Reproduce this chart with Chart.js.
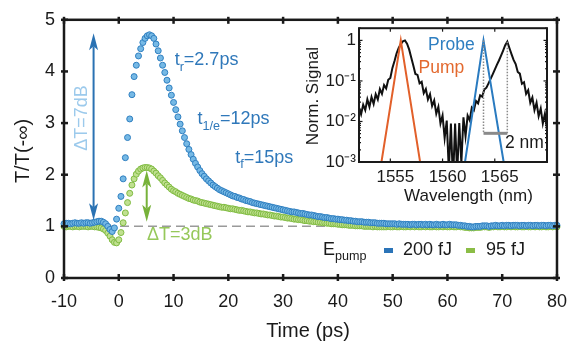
<!DOCTYPE html>
<html>
<head>
<meta charset="utf-8">
<script src="https://cdn.jsdelivr.net/npm/chart.js@4.4.1/dist/chart.umd.min.js"></script>
<style>
  html, body { margin: 0; padding: 0; background: #fff; }
  #wrap { position: relative; width: 580px; height: 345px; }
  #main { position: absolute; left: 0; top: 0; }
  #inset { position: absolute; left: 295px; top: 15px; }
</style>
</head>
<body>
<div id="wrap">
  <canvas id="main" width="580" height="345"></canvas>
  <canvas id="inset" width="262" height="195"></canvas>
</div>
<script>
// pump-probe delay (ps)
const timePs = [
  -10, -9.6, -9.2, -8.8, -8.4, -8, -7.6, -7.2, -6.8, -6.4,
  -6, -5.6, -5.2, -4.8, -4.4, -4, -3.6, -3.2, -2.8, -2.4,
  -2, -1.6, -1.2, -0.8, -0.4, 0, 0.4, 0.8, 1.2, 1.6,
  2, 2.4, 2.8, 3.2, 3.6, 4, 4.4, 4.8, 5.2, 5.6,
  6, 6.4, 6.8, 7.2, 7.6, 8, 8.4, 8.8, 9.2, 9.6,
  10, 10.4, 10.8, 11.2, 11.6, 12, 12.4, 12.8, 13.2, 13.6,
  14, 14.4, 14.8, 15.2, 15.6, 16, 16.4, 16.8, 17.2, 17.6,
  18, 18.4, 18.8, 19.2, 19.6, 20, 20.4, 20.8, 21.2, 21.6,
  22, 22.4, 22.8, 23.2, 23.6, 24, 24.4, 24.8, 25.2, 25.6,
  26, 26.4, 26.8, 27.2, 27.6, 28, 28.4, 28.8, 29.2, 29.6,
  30, 30.4, 30.8, 31.2, 31.6, 32, 32.4, 32.8, 33.2, 33.6,
  34, 34.4, 34.8, 35.2, 35.6, 36, 36.4, 36.8, 37.2, 37.6,
  38, 38.4, 38.8, 39.2, 39.6, 40, 40.4, 40.8, 41.2, 41.6,
  42, 42.4, 42.8, 43.2, 43.6, 44, 44.4, 44.8, 45.2, 45.6,
  46, 46.4, 46.8, 47.2, 47.6, 48, 48.4, 48.8, 49.2, 49.6,
  50, 50.4, 50.8, 51.2, 51.6, 52, 52.4, 52.8, 53.2, 53.6,
  54, 54.4, 54.8, 55.2, 55.6, 56, 56.4, 56.8, 57.2, 57.6,
  58, 58.4, 58.8, 59.2, 59.6, 60, 60.4, 60.8, 61.2, 61.6,
  62, 62.4, 62.8, 63.2, 63.6, 64, 64.4, 64.8, 65.2, 65.6,
  66, 66.4, 66.8, 67.2, 67.6, 68, 68.4, 68.8, 69.2, 69.6,
  70, 70.4, 70.8, 71.2, 71.6, 72, 72.4, 72.8, 73.2, 73.6,
  74, 74.4, 74.8, 75.2, 75.6, 76, 76.4, 76.8, 77.2, 77.6,
  78, 78.4, 78.8, 79.2, 79.6, 80
];

// T/T(-inf), 200 fJ pump
const trans200fJ = [
  1.05, 1.06, 1.06, 1.05, 1.06, 1.07, 1.06, 1.06, 1.07, 1.06,
  1.07, 1.07, 1.06, 1.07, 1.08, 1.09, 1.10, 1.10, 1.08, 1.05,
  1.00, 0.94, 0.90, 0.97, 1.14, 1.35, 1.58, 1.92, 2.33, 2.72,
  3.08, 3.55, 3.90, 4.12, 4.30, 4.44, 4.56, 4.64, 4.69, 4.71,
  4.69, 4.64, 4.53, 4.40, 4.26, 4.12, 3.98, 3.83, 3.68, 3.54,
  3.40, 3.26, 3.12, 2.98, 2.85, 2.72, 2.60, 2.49, 2.39, 2.30,
  2.22, 2.15, 2.08, 2.02, 1.97, 1.92, 1.88, 1.84, 1.80, 1.77,
  1.74, 1.71, 1.69, 1.67, 1.65, 1.63, 1.61, 1.59, 1.58, 1.56,
  1.55, 1.53, 1.52, 1.50, 1.49, 1.48, 1.46, 1.45, 1.44, 1.43,
  1.42, 1.41, 1.40, 1.39, 1.38, 1.37, 1.36, 1.35, 1.34, 1.33,
  1.32, 1.31, 1.30, 1.29, 1.28, 1.28, 1.27, 1.26, 1.25, 1.25,
  1.24, 1.23, 1.22, 1.22, 1.21, 1.20, 1.19, 1.19, 1.18, 1.17,
  1.17, 1.16, 1.15, 1.15, 1.14, 1.14, 1.13, 1.13, 1.12, 1.12,
  1.11, 1.11, 1.10, 1.10, 1.09, 1.09, 1.09, 1.08, 1.08, 1.08,
  1.07, 1.07, 1.07, 1.06, 1.06, 1.06, 1.06, 1.05, 1.05, 1.05,
  1.05, 1.05, 1.04, 1.05, 1.04, 1.04, 1.04, 1.04, 1.03, 1.04,
  1.04, 1.03, 1.04, 1.04, 1.03, 1.04, 1.03, 1.04, 1.03, 1.03,
  1.04, 1.03, 1.03, 1.04, 1.03, 1.03, 1.04, 1.03, 1.03, 1.03,
  1.02, 1.02, 1.01, 1.01, 1.00, 1.00, 0.99, 0.99, 1.00, 1.00,
  1.00, 1.01, 1.01, 1.01, 1.00, 1.01, 1.01, 1.02, 1.01, 1.01,
  1.02, 1.01, 1.02, 1.02, 1.01, 1.02, 1.02, 1.02, 1.01, 1.02,
  1.02, 1.01, 1.02, 1.02, 1.01, 1.02, 1.02, 1.01, 1.02, 1.02,
  1.01, 1.02, 1.02, 1.01, 1.02, 1.02
];

// T/T(-inf), 95 fJ pump
const trans95fJ = [
  1.00, 0.99, 1.00, 1.00, 0.99, 1.00, 1.00, 0.99, 1.00, 1.00,
  1.00, 0.99, 1.00, 1.00, 0.99, 0.99, 0.98, 0.97, 0.95, 0.92,
  0.87, 0.81, 0.74, 0.69, 0.68, 0.74, 0.88, 1.07, 1.26, 1.46,
  1.64, 1.80, 1.92, 2.01, 2.07, 2.11, 2.13, 2.14, 2.14, 2.13,
  2.11, 2.07, 2.03, 1.98, 1.94, 1.89, 1.84, 1.80, 1.76, 1.72,
  1.69, 1.67, 1.64, 1.62, 1.60, 1.58, 1.56, 1.54, 1.53, 1.51,
  1.50, 1.49, 1.47, 1.46, 1.45, 1.44, 1.43, 1.42, 1.41, 1.40,
  1.39, 1.38, 1.37, 1.37, 1.36, 1.35, 1.34, 1.34, 1.33, 1.32,
  1.31, 1.31, 1.30, 1.29, 1.28, 1.28, 1.27, 1.26, 1.26, 1.25,
  1.24, 1.24, 1.23, 1.22, 1.22, 1.21, 1.20, 1.20, 1.19, 1.18,
  1.18, 1.17, 1.16, 1.16, 1.15, 1.14, 1.14, 1.13, 1.13, 1.12,
  1.11, 1.11, 1.10, 1.10, 1.09, 1.09, 1.08, 1.08, 1.07, 1.07,
  1.06, 1.06, 1.05, 1.05, 1.05, 1.04, 1.04, 1.03, 1.03, 1.03,
  1.02, 1.02, 1.02, 1.01, 1.01, 1.01, 1.01, 1.00, 1.00, 1.00,
  1.00, 0.99, 1.00, 0.99, 0.99, 0.99, 0.99, 0.99, 1.00, 0.99,
  0.99, 1.00, 0.99, 0.99, 1.00, 0.99, 0.99, 1.00, 0.99, 1.00,
  0.99, 1.00, 0.99, 0.99, 1.00, 0.99, 1.00, 0.99, 0.99, 1.00,
  0.99, 0.99, 1.00, 0.99, 1.00, 0.99, 0.99, 1.00, 0.99, 0.99,
  1.00, 0.99, 0.99, 0.98, 0.98, 0.97, 0.97, 0.97, 0.98, 0.98,
  0.98, 0.99, 0.99, 0.99, 0.98, 0.99, 0.99, 1.00, 0.99, 0.99,
  1.00, 0.99, 0.99, 1.00, 0.99, 1.00, 0.99, 0.99, 1.00, 0.99,
  0.99, 1.00, 0.99, 0.99, 1.00, 0.99, 1.00, 0.99, 0.99, 1.00,
  0.99, 0.99, 1.00, 0.99, 1.00, 0.99
];

const baselineTime = [-10, 80];
const baselineLevel = [1, 1];

// inset: measured spectrum after the device (nm, normalised)
const spectrumNm = [
  1552, 1552.2, 1552.4, 1552.6, 1552.8, 1553, 1553.2, 1553.4, 1553.6, 1553.8,
  1554, 1554.2, 1554.4, 1554.6, 1554.8, 1555, 1555.2, 1555.4, 1555.6, 1555.8,
  1556, 1556.2, 1556.4, 1556.6, 1556.8, 1557, 1557.2, 1557.4, 1557.6, 1557.8,
  1558, 1558.2, 1558.4, 1558.6, 1558.8, 1559, 1559.2, 1559.4, 1559.6, 1559.8,
  1560, 1560.2, 1560.4, 1560.6, 1560.8, 1561, 1561.2, 1561.4, 1561.6, 1561.8,
  1562, 1562.2, 1562.4, 1562.6, 1562.8, 1563, 1563.2, 1563.4, 1563.6, 1563.8,
  1564, 1564.2, 1564.4, 1564.6, 1564.8, 1565, 1565.2, 1565.4, 1565.6, 1565.8,
  1566, 1566.2, 1566.4, 1566.6, 1566.8, 1567, 1567.2, 1567.4, 1567.6, 1567.8,
  1568, 1568.2, 1568.4, 1568.6, 1568.8, 1569, 1569.2, 1569.4, 1569.6, 1569.8,
  1570
];
const spectrumSignal = [
  0.022, 0.015, 0.026, 0.019, 0.035, 0.023, 0.040, 0.027, 0.047, 0.035,
  0.063, 0.048, 0.079, 0.065, 0.107, 0.118, 0.21, 0.31, 0.48, 0.65,
  0.81, 0.95, 1.0, 0.83, 0.60, 0.38, 0.24, 0.148, 0.141, 0.087,
  0.095, 0.050, 0.063, 0.035, 0.047, 0.024, 0.033, 0.0155, 0.023, 0.0089,
  0.014, 0.0039, 0.0105, 0.00063, 0.0089, 0.00032, 0.0089, 0.0005, 0.0091, 0.00095,
  0.0126, 0.0043, 0.014, 0.0107, 0.022, 0.019, 0.032, 0.028, 0.044, 0.041,
  0.062, 0.068, 0.087, 0.112, 0.145, 0.19, 0.25, 0.32, 0.42, 0.56,
  0.76, 0.93, 0.65, 0.46, 0.33, 0.26, 0.166, 0.151, 0.085, 0.093,
  0.048, 0.059, 0.029, 0.039, 0.019, 0.029, 0.0135, 0.021, 0.0089, 0.0155,
  0.0066
];
const pumpNm = [1554.15, 1556.0, 1557.85];
const pumpSignal = [0.001, 1, 0.001];
const probeNm = [1562.15, 1563.92, 1565.85];
const probeSignal = [0.001, 1, 0.001];
const shiftNm = [1563.92, 1566.2];
const shiftPeak = [1, 0.93];
const shiftBarLevel = 0.0051;

const insetXTicks = [1555, 1560, 1565];
const insetXLabels = ['1555', '1560', '1565'];
const insetYTicks = [0.001, 0.01, 0.1, 1];
const insetYLabels = ['10\u207B\u00B3', '10\u207B\u00B2', '10\u207B\u00B9', '1'];

const FONT = '"Liberation Sans", Arial, Helvetica, sans-serif';
const INK = '#1a1a1a';

const toPoints = (xs, ys) => xs.map((v, i) => ({ x: v, y: ys[i] }));

function richText(ctx, parts, x, y, size, color) {
  ctx.fillStyle = color;
  ctx.textAlign = 'left';
  ctx.textBaseline = 'alphabetic';
  parts.forEach((p) => {
    const s = p.sub ? size * 0.7 : size;
    ctx.font = `${s}px ${FONT}`;
    ctx.fillText(p.text, x, y + (p.sub ? size * 0.3 : 0));
    x += ctx.measureText(p.text).width;
  });
}

function doubleArrow(ctx, x, yTop, yBot, color) {
  const head = 17;
  const half = 4.5;
  ctx.save();
  ctx.strokeStyle = color;
  ctx.fillStyle = color;
  ctx.lineWidth = 2;
  ctx.beginPath();
  ctx.moveTo(x, yTop + head - 4);
  ctx.lineTo(x, yBot - head + 4);
  ctx.stroke();
  ctx.beginPath();
  ctx.moveTo(x, yTop);
  ctx.lineTo(x - half, yTop + head);
  ctx.lineTo(x, yTop + head - 4);
  ctx.lineTo(x + half, yTop + head);
  ctx.closePath();
  ctx.fill();
  ctx.beginPath();
  ctx.moveTo(x, yBot);
  ctx.lineTo(x - half, yBot - head);
  ctx.lineTo(x, yBot - head + 4);
  ctx.lineTo(x + half, yBot - head);
  ctx.closePath();
  ctx.fill();
  ctx.restore();
}

function seg(ctx, x1, y1, x2, y2) {
  ctx.beginPath();
  ctx.moveTo(x1, y1);
  ctx.lineTo(x2, y2);
  ctx.stroke();
}

// arrows and labels, in data coordinates (ps, T/T)
const contrastArrows = [
  { t: -4.6, from: 1.12, to: 4.74, color: '#2a72b3' },
  { t: 5.1, from: 1.09, to: 2.08, color: '#77b23a' }
];

const mainDecor = {
  id: 'mainDecor',
  afterDraw(chart) {
    const { ctx, chartArea: a } = chart;
    const xs = chart.scales.x;
    const ys = chart.scales.y;
    const px = (t) => xs.getPixelForValue(t);
    const py = (v) => ys.getPixelForValue(v);
    ctx.save();

    // frame + ticks
    ctx.strokeStyle = INK;
    ctx.lineWidth = 2.5;
    ctx.strokeRect(a.left, a.top, a.right - a.left, a.bottom - a.top);
    xs.ticks.forEach((t) => {
      const x = px(t.value);
      seg(ctx, x, a.bottom - 4, x, a.bottom + 3);
      seg(ctx, x, a.top - 3, x, a.top + 4);
    });
    ys.ticks.forEach((t) => {
      const y = py(t.value);
      seg(ctx, a.left - 3, y, a.left + 4, y);
      seg(ctx, a.right - 4, y, a.right + 3, y);
    });

    contrastArrows.forEach((ar) => doubleArrow(ctx, px(ar.t), py(ar.to), py(ar.from), ar.color));

    // contrast labels
    ctx.save();
    ctx.translate(px(-5.75), py(3.1));
    ctx.rotate(-Math.PI / 2);
    ctx.font = `18px ${FONT}`;
    ctx.fillStyle = '#9ccaec';
    ctx.textAlign = 'center';
    ctx.textBaseline = 'alphabetic';
    ctx.fillText('\u0394T=7dB', 0, 0);
    ctx.restore();
    richText(ctx, [{ text: '\u0394T=3dB' }], px(5.15), py(0.73), 18, '#96c85a');

    // time constants
    const tc = '#2f78ba';
    richText(ctx, [{ text: 't' }, { text: 'r', sub: true }, { text: '=2.7ps' }], px(10.2), py(4.12), 18, tc);
    richText(ctx, [{ text: 't' }, { text: '1/e', sub: true }, { text: '=12ps' }], px(14.35), py(2.98), 18, tc);
    richText(ctx, [{ text: 't' }, { text: 'f', sub: true }, { text: '=15ps' }], px(21.25), py(2.23), 18, tc);

    // legend
    richText(ctx, [{ text: 'E' }, { text: 'pump', sub: true }], 323, 255, 18, INK);
    ctx.fillStyle = '#2b74b8';
    ctx.fillRect(384, 248, 9, 5);
    ctx.fillStyle = '#8bbd46';
    ctx.fillRect(466, 248, 9, 5);
    richText(ctx, [{ text: '200 fJ' }], 403, 255, 18, INK);
    richText(ctx, [{ text: '95 fJ' }], 486, 255, 18, INK);

    // axis titles
    ctx.fillStyle = INK;
    ctx.font = `20px ${FONT}`;
    ctx.textAlign = 'center';
    ctx.textBaseline = 'alphabetic';
    ctx.fillText('Time (ps)', 308, 336.5);
    ctx.save();
    ctx.translate(29, 151);
    ctx.rotate(-Math.PI / 2);
    ctx.fillText('T/T(-\u221E)', 0, 0);
    ctx.restore();

    ctx.restore();
  }
};

new Chart(document.getElementById('main'), {
  type: 'scatter',
  data: {
    datasets: [
      {
        label: '200 fJ',
        data: toPoints(timePs, trans200fJ),
        pointRadius: 3,
        pointBorderWidth: 1,
        backgroundColor: '#76b9e5',
        borderColor: '#2f7fc0',
        clip: false,
        order: 0
      },
      {
        label: '95 fJ',
        data: toPoints(timePs, trans95fJ),
        pointRadius: 3,
        pointBorderWidth: 1,
        backgroundColor: '#c0e090',
        borderColor: '#80bb42',
        clip: false,
        order: 1
      },
      {
        label: 'baseline',
        data: toPoints(baselineTime, baselineLevel),
        showLine: true,
        pointRadius: 0,
        borderColor: '#9a9a9a',
        borderWidth: 1.5,
        borderDash: [9, 5],
        order: 5
      }
    ]
  },
  options: {
    responsive: false,
    animation: false,
    devicePixelRatio: 1,
    layout: { padding: { left: 0, right: 20, top: 11, bottom: 0 } },
    plugins: { legend: { display: false }, tooltip: { enabled: false } },
    scales: {
      x: {
        type: 'linear',
        min: -10,
        max: 80,
        grid: { display: false, drawTicks: false },
        border: { display: false },
        ticks: { stepSize: 10, color: INK, font: { size: 18, family: FONT }, padding: 13, maxRotation: 0 },
        afterFit(s) { s.height = 67; }
      },
      y: {
        min: 0,
        max: 5,
        grid: { display: false, drawTicks: false },
        border: { display: false },
        ticks: { stepSize: 1, color: INK, font: { size: 18, family: FONT }, padding: 9 },
        afterFit(s) { s.width = 64; }
      }
    }
  },
  plugins: [mainDecor]
});

const insetDecor = {
  id: 'insetDecor',
  beforeDraw(chart) {
    const { ctx, chartArea: a } = chart;
    ctx.save();
    ctx.fillStyle = '#fff';
    ctx.fillRect(a.left, a.top, a.right - a.left, a.bottom - a.top);
    ctx.restore();
  },
  afterDraw(chart) {
    const { ctx, chartArea: a } = chart;
    const xs = chart.scales.x;
    const ys = chart.scales.y;
    ctx.save();

    // 2 nm shift marker
    const xa = xs.getPixelForValue(shiftNm[0]);
    const xb = xs.getPixelForValue(shiftNm[1]);
    const yBar = ys.getPixelForValue(shiftBarLevel);
    ctx.strokeStyle = '#8a8a8a';
    ctx.lineWidth = 1.5;
    ctx.setLineDash([1.5, 1.5]);
    seg(ctx, xa, ys.getPixelForValue(shiftPeak[0]), xa, yBar);
    seg(ctx, xb, ys.getPixelForValue(shiftPeak[1]), xb, yBar);
    ctx.setLineDash([]);
    ctx.lineWidth = 3;
    seg(ctx, xa, yBar, xb, yBar);
    richText(ctx, [{ text: '2 nm' }], 210, 133, 17.5, INK);
    richText(ctx, [{ text: 'Probe' }], 133, 34.5, 17.5, '#2f7fc1');
    richText(ctx, [{ text: 'Pump' }], 123.5, 58, 17.5, '#e3692f');

    // frame
    ctx.strokeStyle = INK;
    ctx.lineWidth = 2;
    ctx.strokeRect(a.left, a.top, a.right - a.left, a.bottom - a.top);
    ctx.lineWidth = 1.2;
    insetXTicks.forEach((v) => {
      const x = xs.getPixelForValue(v);
      seg(ctx, x, a.bottom, x, a.bottom - 3.5);
      seg(ctx, x, a.top, x, a.top + 3.5);
    });
    insetYTicks.forEach((d) => {
      for (let m = 1; m < 10; m++) {
        const v = d * m;
        if (v > 2) break;
        const y = ys.getPixelForValue(v);
        const len = m === 1 ? 3.5 : 2;
        seg(ctx, a.left, y, a.left + len, y);
        seg(ctx, a.right, y, a.right - len, y);
      }
    });

    // titles
    ctx.fillStyle = INK;
    ctx.font = `17px ${FONT}`;
    ctx.textAlign = 'center';
    ctx.textBaseline = 'alphabetic';
    ctx.fillText('Wavelength (nm)', 173.5, 186);
    ctx.save();
    ctx.translate(22.5, 81);
    ctx.rotate(-Math.PI / 2);
    ctx.fillText('Norm. Signal', 0, 0);
    ctx.restore();

    ctx.restore();
  }
};

new Chart(document.getElementById('inset'), {
  type: 'scatter',
  data: {
    datasets: [
      {
        label: 'Pump',
        data: toPoints(pumpNm, pumpSignal),
        showLine: true,
        pointRadius: 0,
        borderColor: '#e2602a',
        borderWidth: 2
      },
      {
        label: 'Probe',
        data: toPoints(probeNm, probeSignal),
        showLine: true,
        pointRadius: 0,
        borderColor: '#2a7bc0',
        borderWidth: 2
      },
      {
        label: 'Output',
        data: toPoints(spectrumNm, spectrumSignal),
        showLine: true,
        pointRadius: 0,
        borderColor: '#111111',
        borderWidth: 2
      }
    ]
  },
  options: {
    responsive: false,
    animation: false,
    devicePixelRatio: 1,
    layout: { padding: { left: 0, right: 10, top: 11, bottom: 0 } },
    plugins: { legend: { display: false }, tooltip: { enabled: false } },
    scales: {
      x: {
        type: 'linear',
        min: 1552,
        max: 1570,
        grid: { display: false, drawTicks: false },
        border: { display: false },
        afterBuildTicks(s) { s.ticks = insetXTicks.map((v) => ({ value: v })); },
        ticks: {
          color: INK,
          font: { size: 17, family: FONT },
          padding: 5,
          labelOffset: 5,
          maxRotation: 0,
          callback: (v, i) => insetXLabels[i]
        },
        afterFit(s) { s.height = 48; }
      },
      y: {
        type: 'logarithmic',
        min: 0.001,
        max: 2,
        grid: { display: false, drawTicks: false },
        border: { display: false },
        afterBuildTicks(s) { s.ticks = insetYTicks.map((v) => ({ value: v })); },
        ticks: {
          color: INK,
          font: { size: 17, family: FONT },
          padding: 3,
          callback: (v, i) => insetYLabels[i]
        },
        afterFit(s) { s.width = 64; }
      }
    }
  },
  plugins: [insetDecor]
});
</script>
</body>
</html>
